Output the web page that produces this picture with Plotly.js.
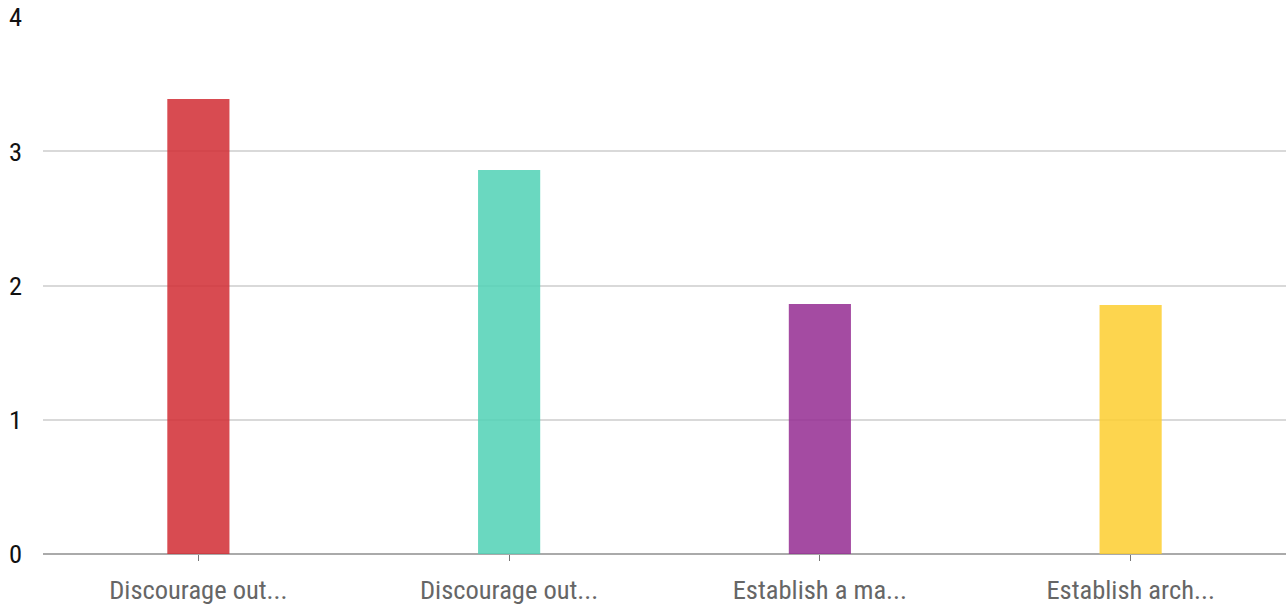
<!DOCTYPE html>
<html><head><meta charset="utf-8">
<script src="https://cdn.plot.ly/plotly-3.0.1.min.js"></script>
<style>html,body{margin:0;padding:0;background:#fff}#chart{width:1286px;height:609px}</style>
</head><body><div id="chart"></div>
<script>
const categories = ["Discourage out...", "Discourage out...", "Establish a ma...", "Establish arch..."];
const categoryIds = ["c1", "c2", "c3", "c4"];
const values = [3.39, 2.86, 1.862, 1.855];
const barColors = ["rgb(209,44,50)", "rgb(80,209,181)", "rgb(148,43,146)", "rgb(253,206,47)"];
const yTicks = [0, 1, 2, 3, 4];

const font = "'Roboto Condensed', 'Liberation Sans', sans-serif";

Plotly.newPlot('chart', [{
  type: 'bar',
  x: categoryIds,
  y: values,
  width: 0.2,
  marker: {color: barColors, opacity: 0.85, line: {width: 0}},
  hoverinfo: 'none'
}], {
  width: 1286, height: 609,
  margin: {l: 43, r: 0, t: 17, b: 55},
  paper_bgcolor: '#fff', plot_bgcolor: '#fff',
  showlegend: false,
  bargap: 0.8,
  xaxis: {
    type: 'category',
    tickvals: categoryIds, ticktext: categories,
    ticks: 'outside', ticklen: 6, tickcolor: '#777', tickwidth: 1,
    tickfont: {family: font, size: 26.5, color: '#666'},
    showgrid: false, zeroline: false, showline: false,
    ticklabelstandoff: 6
  },
  yaxis: {
    range: [0, 4], tickvals: yTicks, ticktext: yTicks.map(String),
    showgrid: true, gridcolor: '#d9d9d9', gridwidth: 2,
    zeroline: true, zerolinecolor: '#aaa', zerolinewidth: 2,
    showline: false, ticks: '',
    tickfont: {family: font, size: 26.5, color: '#111'},
    ticklabelstandoff: 20
  }
}, {staticPlot: true});
</script></body></html>
